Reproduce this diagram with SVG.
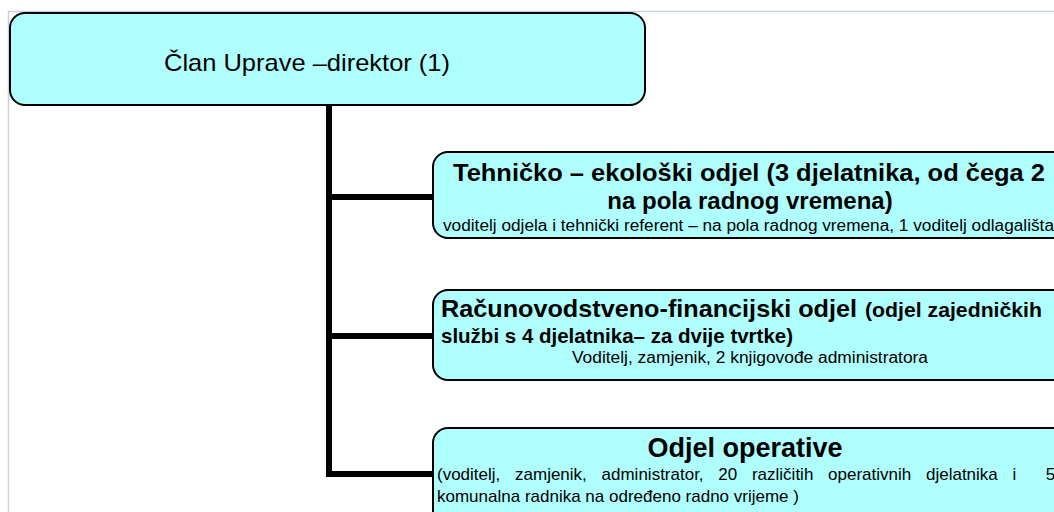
<svg xmlns="http://www.w3.org/2000/svg" width="1054" height="512" viewBox="0 0 1054 512">
<style>
.box{fill:#b0ffff;stroke:#000;stroke-width:2}
.t{font-family:"Liberation Sans",Arial,sans-serif;fill:#000}
.b{font-weight:bold}
.conn{stroke:#000;stroke-width:6;fill:none}
</style>
<rect x="0" y="0" width="1054" height="512" fill="#fff"/>
<rect x="8.5" y="11.5" width="1100" height="600" fill="none" stroke="#cad3e3" stroke-width="1.5"/>
<g id="connectors">
<path class="conn" d="M329,105 V477"/>
<path class="conn" d="M326,197 H434"/>
<path class="conn" d="M326,336 H434"/>
<path class="conn" d="M326,474 H434"/>
</g>
<g id="director">
<rect class="box" x="10" y="13" width="635" height="92" rx="15"/>
<text class="t" x="164" y="71" font-size="24" textLength="286" lengthAdjust="spacingAndGlyphs">Član Uprave –direktor (1)</text>
</g>
<g id="tehnicko">
<rect class="box" x="433" y="152" width="650" height="86" rx="15"/>
<text class="t b" x="453" y="181" font-size="24" textLength="592" lengthAdjust="spacingAndGlyphs">Tehničko – ekološki odjel (3 djelatnika, od čega 2</text>
<text class="t b" x="750" y="209" font-size="24" text-anchor="middle">na pola radnog vremena)</text>
<text class="t" x="443" y="231" font-size="16" textLength="611" lengthAdjust="spacingAndGlyphs">voditelj odjela i tehnički referent – na pola radnog vremena, 1 voditelj odlagališta</text>
</g>
<g id="racunovodstvo">
<rect class="box" x="433" y="290" width="650" height="90" rx="15"/>
<text class="t b" x="441" y="317" font-size="24"><tspan textLength="416" lengthAdjust="spacingAndGlyphs">Računovodstveno-financijski odjel</tspan><tspan x="865" font-size="20" textLength="177" lengthAdjust="spacingAndGlyphs">(odjel zajedničkih</tspan></text>
<text class="t b" x="441" y="343" font-size="20.5">službi s 4 djelatnika– za dvije tvrtke)</text>
<text class="t" x="572" y="363" font-size="16" textLength="356" lengthAdjust="spacingAndGlyphs">Voditelj, zamjenik, 2 knjigovođe administratora</text>
</g>
<g id="operativa">
<rect class="box" x="433" y="428" width="650" height="110" rx="15"/>
<text class="t b" x="745" y="457" font-size="27" text-anchor="middle">Odjel operative</text>
<text class="t" x="437" y="480" font-size="17" word-spacing="10" xml:space="preserve">(voditelj, zamjenik, administrator, 20 različitih operativnih djelatnika i  5</text>
<text class="t" x="437" y="502" font-size="17">komunalna radnika na određeno radno vrijeme )</text>
</g>
</svg>
